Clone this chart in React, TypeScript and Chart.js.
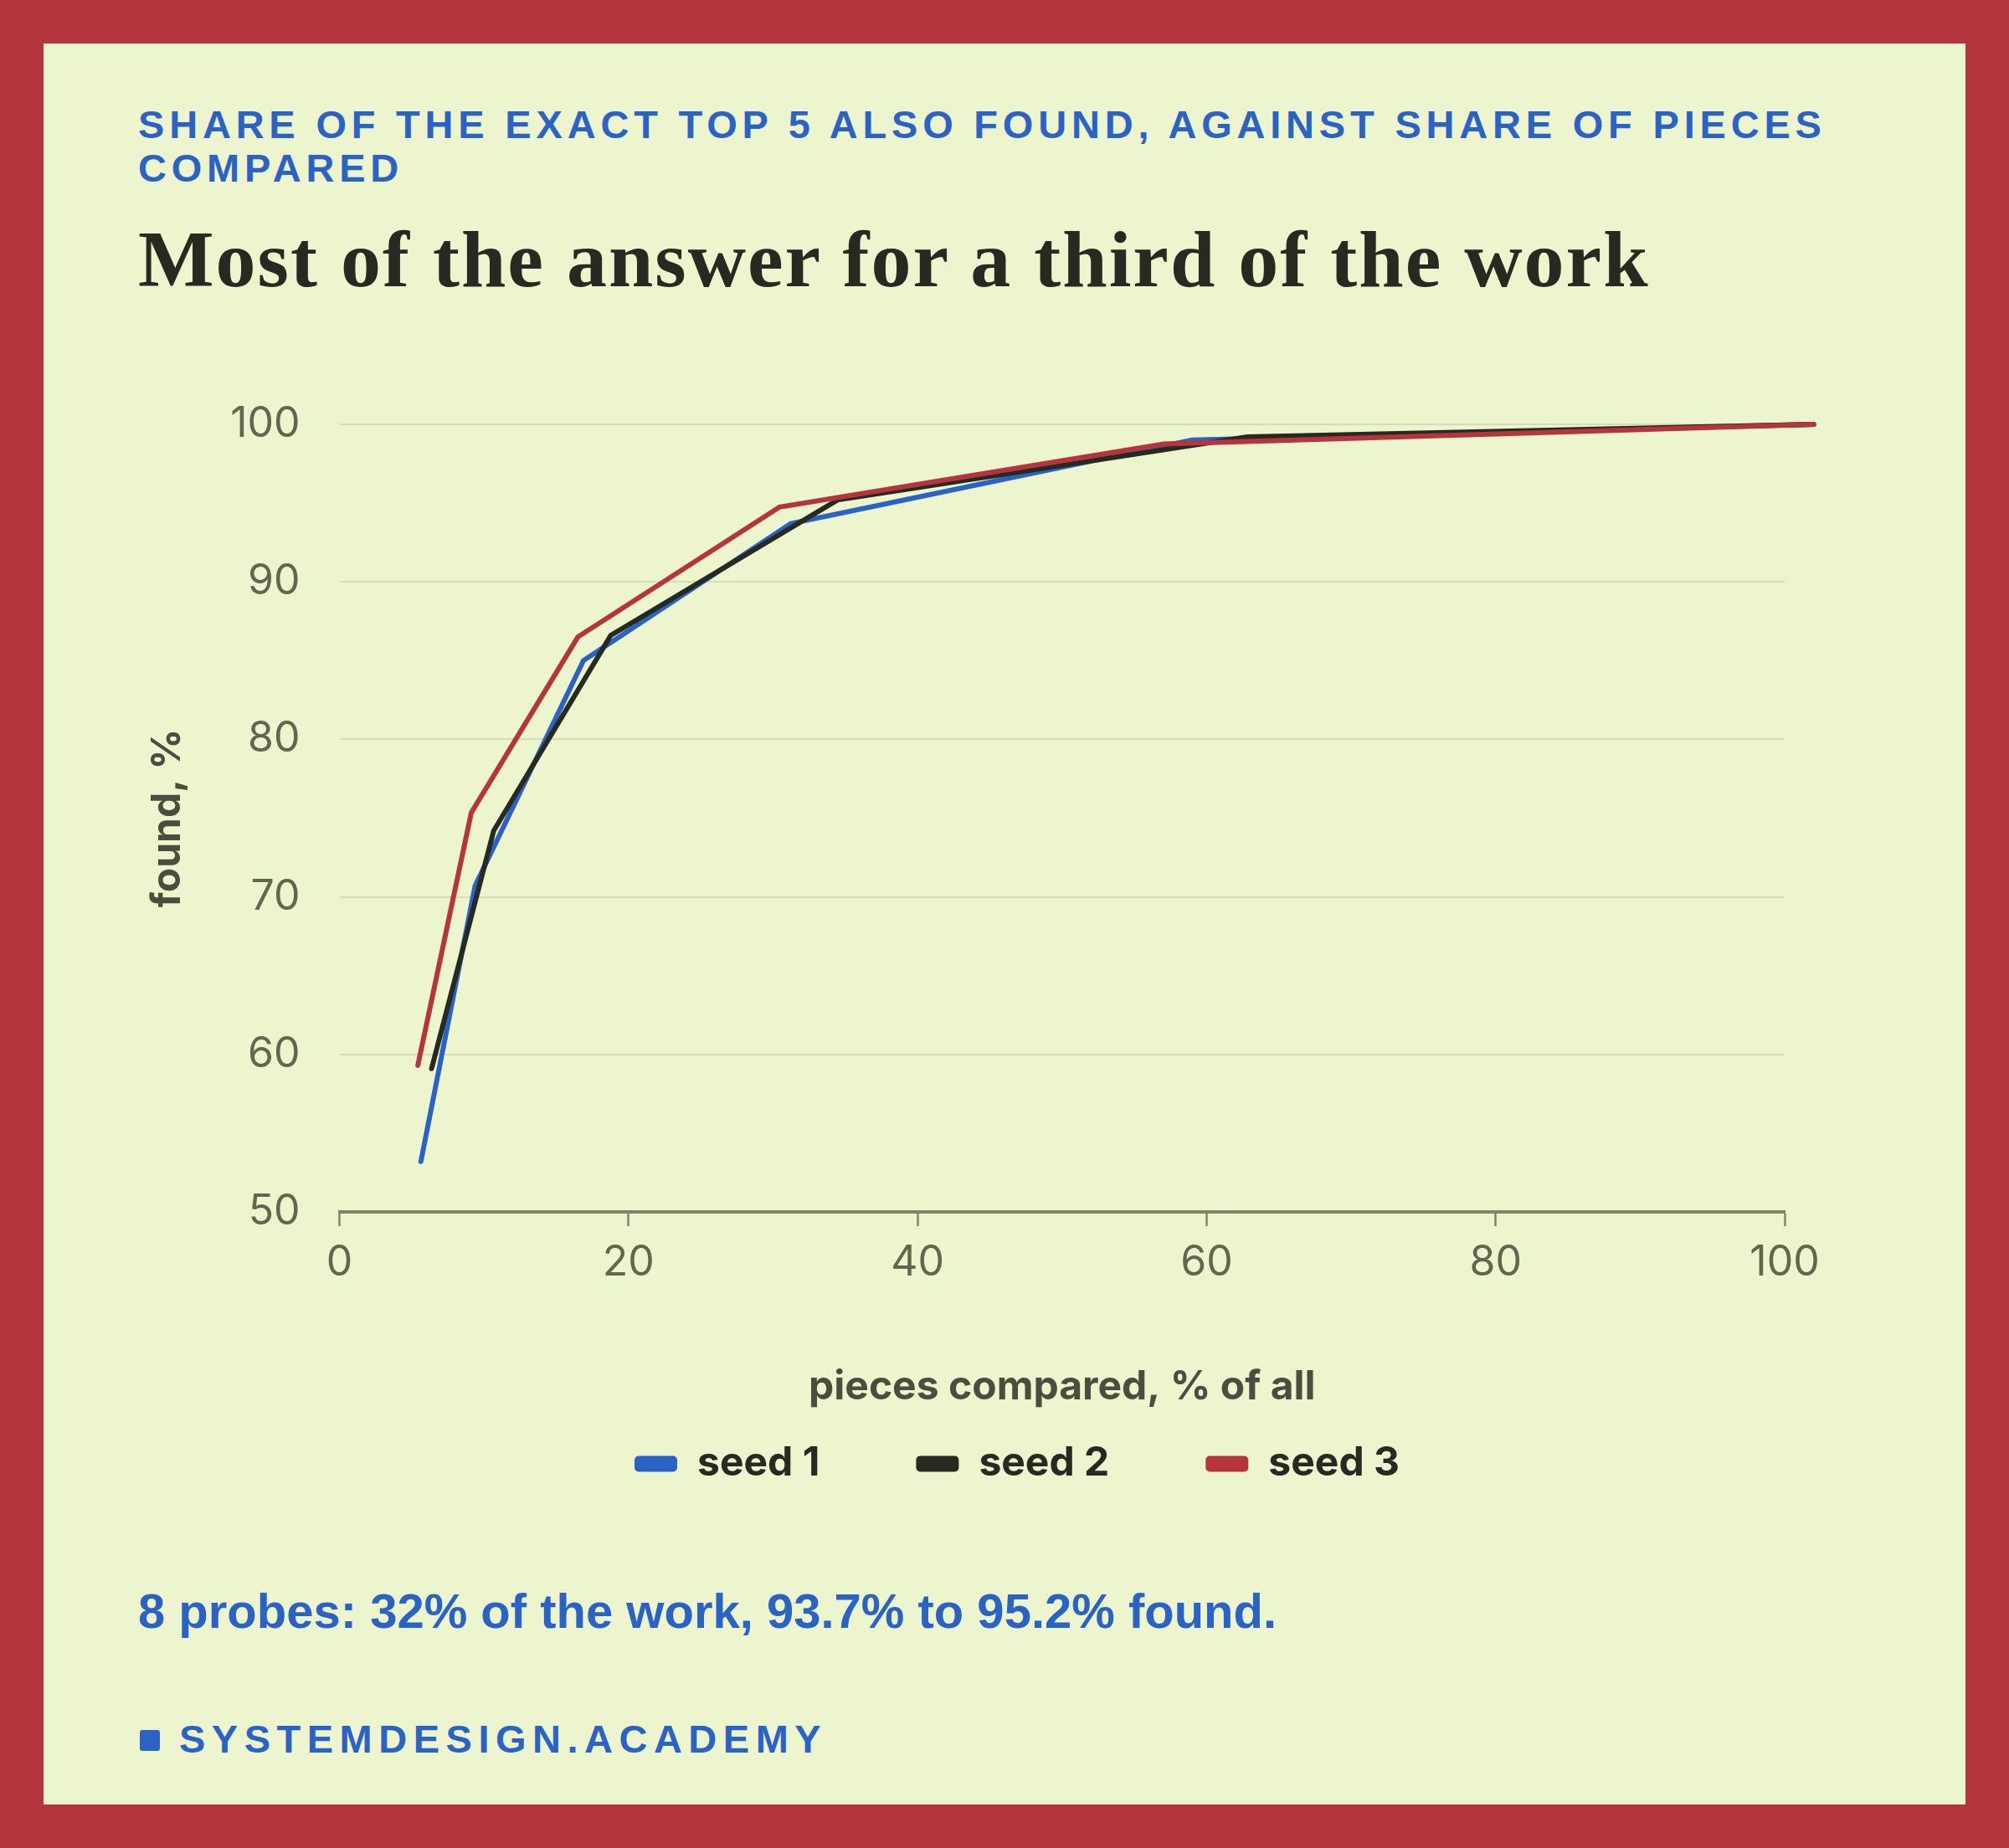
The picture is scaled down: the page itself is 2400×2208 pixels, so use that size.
import React, { useEffect, useRef } from "react";
import { Chart, registerables } from "chart.js";

Chart.register(...registerables);

// ---- data ----
const seriesNames = ["seed 1", "seed 2", "seed 3"];
const seed1X = [5.63, 9.38, 16.88, 31.23, 59.0, 102.0];
const seed1Y = [53.2, 70.7, 85.0, 93.7, 99.0, 100];
const seed2X = [6.37, 10.67, 18.77, 34.46, 62.8, 102.0];
const seed2Y = [59.1, 74.2, 86.6, 95.2, 99.2, 100];
const seed3X = [5.42, 9.12, 16.49, 30.45, 57.04, 102.0];
const seed3Y = [59.3, 75.35, 86.5, 94.75, 98.75, 100];
const xRange = [0, 100];
const yRange = [50, 100];
const xStep = 20;
const yStep = 10;

const kicker = "SHARE OF THE EXACT TOP 5 ALSO FOUND, AGAINST SHARE OF PIECES COMPARED";
const headline = "Most of the answer for a third of the work";
const xTitle = "pieces compared, % of all";
const yTitle = "found, %";
const note = "8 probes: 32% of the work, 93.7% to 95.2% found.";
const brand = "SYSTEMDESIGN.ACADEMY";

// ---- style ----
const BLUE = "#2B63C4";
const DARK = "#272A20";
const RED = "#B5353F";
const BG = "#EDF5CE";
const seriesColors = [BLUE, DARK, RED];

function toPoints(xs: number[], ys: number[]) {
  return xs.map((x, i) => ({ x, y: ys[i] }));
}

export default function App() {
  const canvasRef = useRef<HTMLCanvasElement | null>(null);

  useEffect(() => {
    document.body.style.margin = "0";
    const canvas = canvasRef.current;
    if (!canvas) return;
    const xs = [seed1X, seed2X, seed3X];
    const ys = [seed1Y, seed2Y, seed3Y];
    const chart = new Chart(canvas, {
      type: "line",
      data: {
        datasets: seriesNames.map((name, i) => ({
          label: name,
          data: toPoints(xs[i], ys[i]),
          borderColor: seriesColors[i],
          backgroundColor: seriesColors[i],
          borderWidth: 6,
          pointRadius: 0,
          pointHoverRadius: 0,
          tension: 0,
          borderCapStyle: "round",
          borderJoinStyle: "miter",
          clip: false,
          order: 3 - i,
        })),
      },
      options: {
        animation: false,
        responsive: true,
        maintainAspectRatio: false,
        layout: { padding: { top: 47, left: 0, right: 0, bottom: 0 } },
        font: { family: "Inter" },
        plugins: {
          tooltip: { enabled: false },
          legend: {
            position: "bottom",
            align: "center",
            labels: {
              boxWidth: 51,
              boxHeight: 19,
              useBorderRadius: true,
              borderRadius: 5,
              padding: 115,
              color: DARK,
              font: { family: "Inter", size: 48, weight: "bold" },
              sort: (a: any, b: any) => a.datasetIndex - b.datasetIndex,
              generateLabels: (c: any) =>
                Chart.defaults.plugins.legend.labels
                  .generateLabels(c)
                  .map((it: any) => ({ ...it, lineWidth: 0 })),
            },
          },
        },
        scales: {
          x: {
            type: "linear",
            min: xRange[0],
            max: xRange[1],
            afterFit: (s: any) => {
              s.height = 162;
            },
            ticks: {
              stepSize: xStep,
              padding: 14,
              color: "#63664F",
              font: { family: "Inter", size: 50 },
              maxRotation: 0,
            },
            grid: {
              drawOnChartArea: false,
              drawTicks: true,
              tickLength: 17,
              tickWidth: 2.5,
              tickColor: "#7F8468",
              color: "#7F8468",
            },
            border: { display: true, color: "#7F8468", width: 4 },
            title: {
              display: true,
              text: xTitle,
              color: "#4B4D3E",
              font: { family: "Inter", size: 48, weight: "bold" },
              padding: { top: 0, bottom: -76 },
            },
          },
          y: {
            type: "linear",
            position: "left",
            min: yRange[0],
            max: yRange[1],
            afterFit: (s: any) => {
              s.width = 255.6;
            },
            ticks: {
              stepSize: yStep,
              padding: 47,
              color: "#63664F",
              font: { family: "Inter", size: 50 },
            },
            grid: {
              drawTicks: false,
              color: "#D5DCB6",
              lineWidth: 2,
            },
            border: { display: false },
            title: {
              display: true,
              text: yTitle,
              color: "#4B4D3E",
              font: { family: "Inter", size: 48, weight: "bold" },
              padding: { top: 22, bottom: 0 },
            },
          },
          yRightSpace: {
            type: "linear",
            position: "right",
            display: true,
            afterFit: (s: any) => {
              s.width = 148;
            },
            ticks: { display: false },
            grid: { display: false, drawTicks: false },
            border: { display: false },
          },
        },
      } as any,
    });
    return () => chart.destroy();
  }, []);

  return (
    <div
      style={{
        position: "relative",
        width: 2400,
        height: 2208,
        background: RED,
        overflow: "hidden",
      }}
    >
      <div
        style={{
          position: "absolute",
          left: 52,
          top: 52,
          width: 2296,
          height: 2104,
          background: BG,
        }}
      />
      <div
        style={{
          position: "absolute",
          left: 165,
          top: 123,
          width: 2070,
          fontFamily: '"Liberation Sans", Arial, sans-serif',
          fontWeight: 700,
          fontSize: 47,
          lineHeight: "52px",
          letterSpacing: "5.8px",
          color: BLUE,
        }}
      >
        {kicker}
      </div>
      <div
        style={{
          position: "absolute",
          left: 165,
          top: 262,
          whiteSpace: "nowrap",
          fontFamily: '"Liberation Serif", serif',
          fontWeight: 700,
          fontSize: 96,
          lineHeight: "96px",
          letterSpacing: "2px",
          color: DARK,
        }}
      >
        {headline}
      </div>
      <div
        style={{
          position: "absolute",
          left: 150,
          top: 430,
          width: 2130,
          height: 1353,
        }}
      >
        <canvas ref={canvasRef} />
      </div>
      <div
        style={{
          position: "absolute",
          left: 165,
          top: 1896,
          whiteSpace: "nowrap",
          fontFamily: '"Liberation Sans", Arial, sans-serif',
          fontWeight: 700,
          fontSize: 58,
          lineHeight: "58px",
          color: BLUE,
        }}
      >
        {note}
      </div>
      <div
        style={{
          position: "absolute",
          left: 167,
          top: 2067,
          width: 24,
          height: 25,
          borderRadius: 3,
          background: BLUE,
        }}
      />
      <div
        style={{
          position: "absolute",
          left: 214,
          top: 2054,
          whiteSpace: "nowrap",
          fontFamily: '"Liberation Sans", Arial, sans-serif',
          fontWeight: 700,
          fontSize: 47,
          lineHeight: "47px",
          letterSpacing: "7.5px",
          color: BLUE,
        }}
      >
        {brand}
      </div>
    </div>
  );
}
